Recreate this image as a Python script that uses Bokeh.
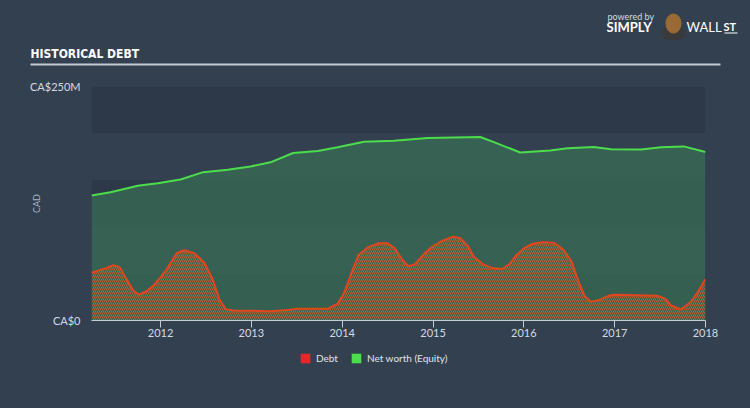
from bokeh.plotting import figure
from bokeh.models import (ColumnDataSource, FixedTicker, BoxAnnotation,
                          Legend, LegendItem, Range1d)
from bokeh.layouts import column
from bokeh.core.properties import value
from bokeh.embed import file_html
from bokeh.resources import INLINE

# ---- data (decimal years, CA$ millions) ----
debt_x = [2011.24, 2011.40, 2011.48, 2011.55, 2011.62, 2011.70, 2011.76, 2011.84,
          2011.92, 2012.0, 2012.07, 2012.18, 2012.26, 2012.37, 2012.48, 2012.57,
          2012.65, 2012.72, 2012.80, 2012.99, 2013.21, 2013.43, 2013.5, 2013.84,
          2013.95, 2014.02, 2014.1, 2014.18, 2014.28, 2014.4, 2014.5, 2014.58,
          2014.66, 2014.73, 2014.8, 2014.9, 2014.98, 2015.1, 2015.22, 2015.3,
          2015.38, 2015.45, 2015.55, 2015.65, 2015.76, 2015.84, 2015.92, 2016.0,
          2016.1, 2016.2, 2016.33, 2016.43, 2016.52, 2016.6, 2016.67, 2016.74,
          2016.83, 2016.95, 2017.0, 2017.47, 2017.56, 2017.62, 2017.73, 2017.84,
          2017.92, 2018.0]
debt_y = [51, 56, 59, 57, 45, 32, 27.5, 31,
          37, 46, 55, 72, 75, 72, 62, 45,
          22, 12, 10.8, 10.5, 10, 11.5, 12.5, 12.5,
          18, 29, 50, 70, 78, 82.5, 82.5, 77,
          65, 58, 60, 71, 78, 85, 89.5, 88,
          80, 68, 60, 56, 55, 60, 70, 77,
          82, 83.5, 83, 76, 64, 42, 26, 20,
          22, 27, 27.5, 26.5, 23, 16, 11.7, 20,
          31, 44]

equity_x = [2011.24, 2011.45, 2011.75, 2011.97, 2012.22, 2012.47, 2012.74, 2012.99,
            2013.21, 2013.46, 2013.73, 2013.95, 2014.24, 2014.57, 2014.94, 2015.52,
            2015.67, 2015.96, 2016.29, 2016.48, 2016.77, 2016.96, 2017.29, 2017.51,
            2017.76, 2018.0]
equity_y = [133.5, 137, 144, 146.7, 150.6, 158.5, 161, 164.5,
            169, 179, 181, 185, 191, 192, 195, 196,
            190.6, 179.5, 181.6, 184, 185.3, 183, 182.7, 185,
            186, 180]

year_ticks = [2012, 2013, 2014, 2015, 2016, 2017, 2018]
y_ticks = [0, 250]
y_tick_labels = {0: "CA$0", 250: "CA$250M"}
band_edges = [(0, 50), (100, 150), (200, 250)]
series_names = ["Debt", "Net worth (Equity)"]
series_colors = ["#e8262a", "#4cdc4c"]

BG = "#334050"
FONT = "Lato"
TXT = "#d5dae0"


def strip(h):
    f = figure(width=750, height=h, output_backend="svg", toolbar_location=None,
               x_range=Range1d(0, 750), y_range=Range1d(h, 0),
               x_axis_type=None, y_axis_type=None, min_border=0,
               min_border_left=0, min_border_right=0, min_border_top=0,
               min_border_bottom=0, frame_align=False)
    f.background_fill_color = BG
    f.border_fill_color = BG
    f.outline_line_color = None
    f.grid.visible = False
    return f


# ---------------- header ----------------
head = strip(70)
head.text(x=[30], y=[53], text=["HISTORICAL DEBT"], text_color="#ffffff",
          text_font=value("DejaVu Sans Condensed, Roboto"), text_font_style="bold",
          text_font_size="12px", text_baseline="middle")
head.add_layout(BoxAnnotation(left=30, right=720, top=63, bottom=65,
                              fill_color="#c3cad2", fill_alpha=1, line_color=None))
head.text(x=[607], y=[16], text=["powered by"], text_color=TXT,
          text_font=value(FONT), text_font_size="9px", text_baseline="middle")
head.text(x=[606], y=[26], text=["SIMPLY"], text_color="#ffffff",
          text_font=value(FONT), text_font_style="bold",
          text_font_size="13px", text_baseline="middle")
head.text(x=[686], y=[26], text=["WALL"], text_color="#ffffff",
          text_font=value(FONT), text_font_size="13px", text_baseline="middle")
head.text(x=[723], y=[26], text=["ST"], text_color="#ffffff",
          text_font=value(FONT), text_font_style="bold",
          text_font_size="11px", text_baseline="middle")
head.add_layout(BoxAnnotation(left=724, right=737, top=32, bottom=33,
                              fill_color="#ffffff", fill_alpha=1, line_color=None))
# simple emblem in place of the logo picture
head.ellipse(x=[673], y=[33], width=[24], height=[14], fill_color="#3a3a3a",
             line_color=None)
head.ellipse(x=[673], y=[23], width=[16], height=[20], fill_color="#9a6a35",
             line_color=None)

# ---------------- main chart ----------------
p = figure(width=750, height=275, output_backend="svg", toolbar_location=None,
           x_range=Range1d(2011.24, 2018.0), y_range=Range1d(0, 250),
           min_border_left=91, min_border_right=45, min_border_top=16,
           min_border_bottom=25, frame_align=False)
p.background_fill_color = BG
p.border_fill_color = BG
p.outline_line_color = None
p.grid.visible = False

for lo, hi in band_edges:
    p.add_layout(BoxAnnotation(bottom=lo, top=hi, fill_color="#2d3949",
                               fill_alpha=1, line_color=None, level="underlay"))

eq_src = ColumnDataSource(dict(x=equity_x, y=equity_y))
debt_src = ColumnDataSource(dict(x=debt_x, y=debt_y))

p.varea(x="x", y1=0, y2="y", source=eq_src, fill_color="#3b7a55", fill_alpha=0.6)
p.varea(x="x", y1=0, y2="y", source=debt_src, fill_alpha=0,
        hatch_pattern="/", hatch_color="#d9602c", hatch_scale=4, hatch_weight=1,
        hatch_alpha=0.85)
p.line(x="x", y="y", source=eq_src, line_color="#4cdc4c", line_width=2)
p.line(x="x", y="y", source=debt_src, line_color="#e2461f", line_width=2)

xa = p.xaxis[0]
xa.ticker = FixedTicker(ticks=year_ticks)
xa.minor_tick_line_color = None
xa.major_tick_out = 7
xa.major_tick_in = 0
xa.axis_line_color = "#c5ccd4"
xa.major_tick_line_color = "#c5ccd4"
xa.major_label_text_color = TXT
xa.major_label_text_font = FONT
xa.major_label_text_font_size = "11px"
xa.major_label_standoff = 1

ya = p.yaxis[0]
ya.ticker = FixedTicker(ticks=y_ticks)
ya.major_label_overrides = y_tick_labels
ya.axis_line_color = None
ya.major_tick_line_color = None
ya.minor_tick_line_color = None
ya.major_label_text_color = TXT
ya.major_label_text_font = FONT
ya.major_label_text_font_size = "11px"
ya.major_label_standoff = 5
ya.axis_label = "CAD"
ya.axis_label_text_color = "#aab2bc"
ya.axis_label_text_font = FONT
ya.axis_label_text_font_style = "normal"
ya.axis_label_text_font_size = "9px"
ya.axis_label_standoff = -15

# ---------------- legend strip ----------------
leg = strip(63)
swatches = [leg.quad(left=[0], right=[0], top=[0], bottom=[0], fill_color=c,
                     line_color=None) for c in series_colors]
legend = Legend(items=[LegendItem(label=n, renderers=[r])
                       for n, r in zip(series_names, swatches)],
                orientation="horizontal", location=(299, 44),
                background_fill_alpha=0, border_line_color=None,
                label_text_color="#e0e4e8", label_text_font=FONT,
                label_text_font_size="10px", glyph_width=12, glyph_height=12,
                spacing=12, padding=0, margin=0, label_standoff=5,
                label_height=12)
leg.add_layout(legend)

layout = column(head, p, leg, spacing=0)
layout.background = BG
open("out.html", "w").write(file_html(layout, INLINE))
